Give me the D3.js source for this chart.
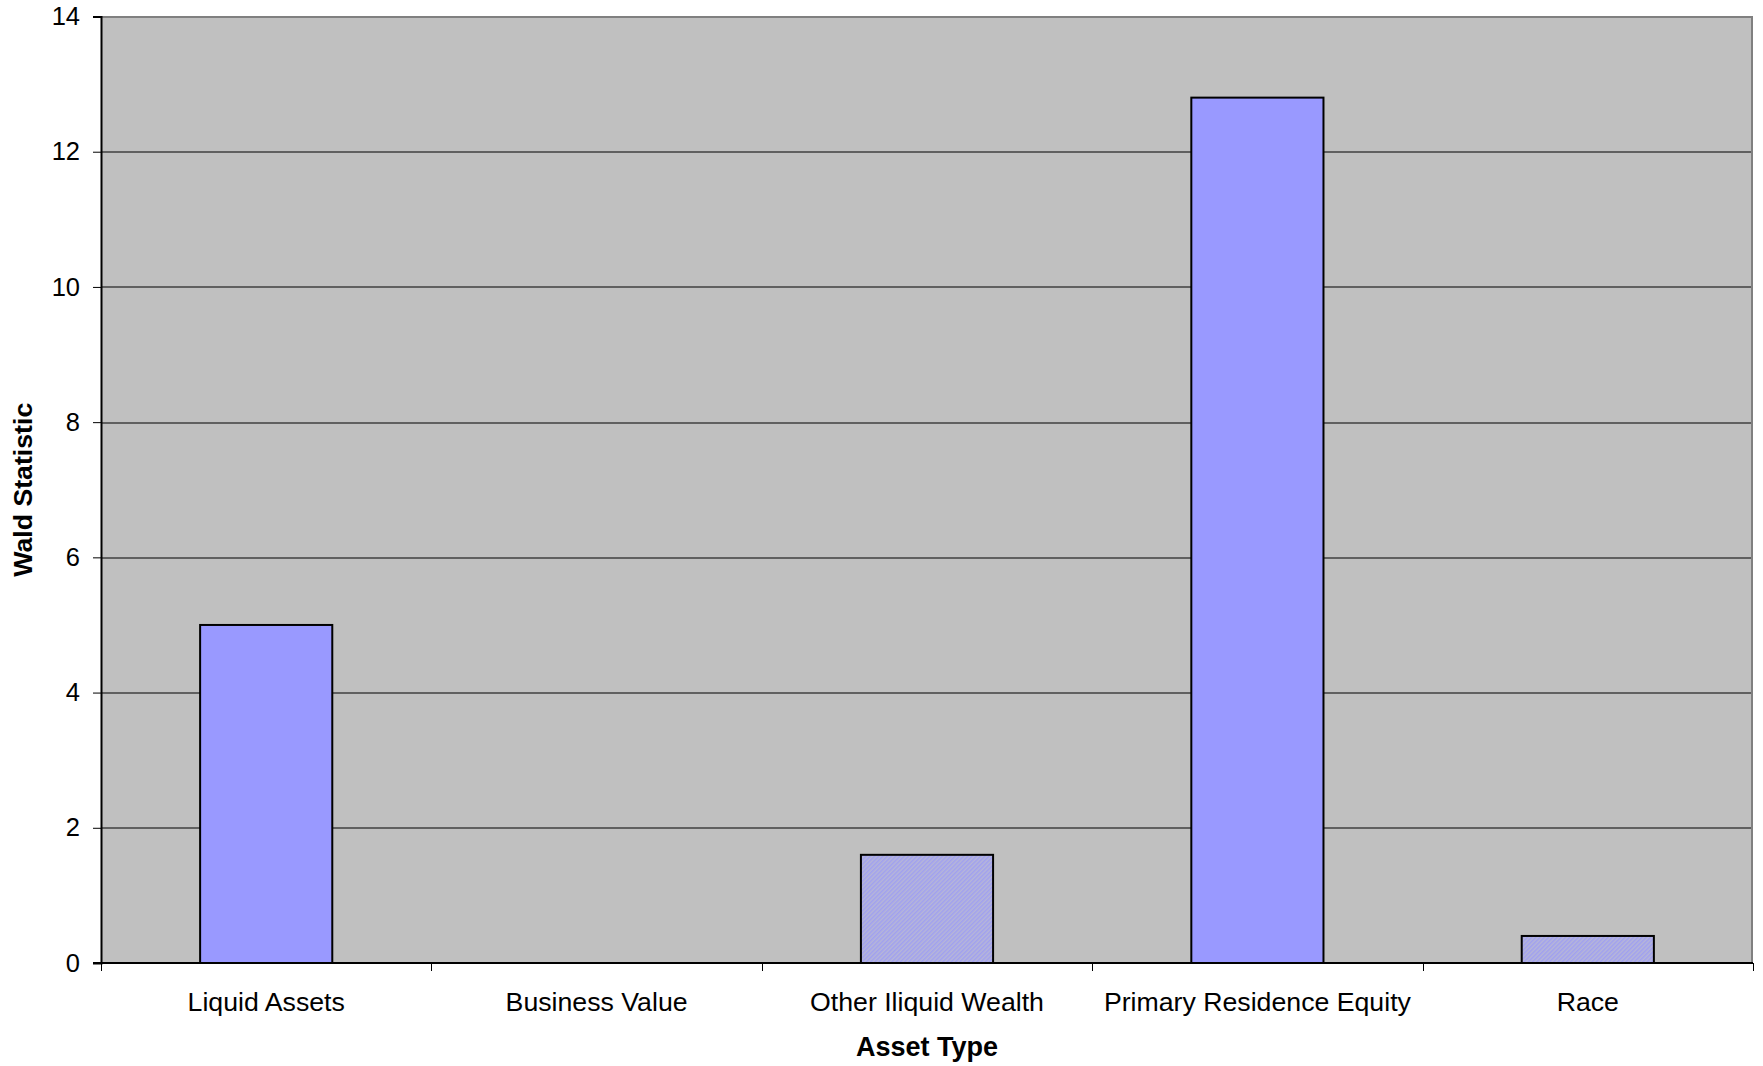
<!DOCTYPE html>
<html>
<head>
<meta charset="utf-8">
<script src="https://cdn.jsdelivr.net/npm/d3@7"></script>
<style>
  html, body { margin: 0; padding: 0; background: #fff; }
  svg { display: block; }
  text { font-family: "Liberation Sans", Arial, sans-serif; fill: #000; }
</style>
</head>
<body>
<svg id="chart" width="1763" height="1066"></svg>
<script>
// Wald statistic per asset type
const categories = ["Liquid Assets", "Business Value", "Other Iliquid Wealth", "Primary Residence Equity", "Race"];
const values = [5.0, 0, 1.6, 12.8, 0.4];
// bars drawn with the hatched (not significant) fill
const hatched = [false, false, true, false, true];
const yTicks = [0, 2, 4, 6, 8, 10, 12, 14];
const xTitle = "Asset Type";
const yTitle = "Wald Statistic";

const W = 1763, H = 1066;
const margin = { top: 16.5, right: 10, bottom: 103, left: 101 };
const iw = W - margin.left - margin.right;
const ih = H - margin.top - margin.bottom;

const svg = d3.select("#chart");

// fine diagonal hatch for the lighter bars
const defs = svg.append("defs");
const pat = defs.append("pattern")
  .attr("id", "hatch")
  .attr("patternUnits", "userSpaceOnUse")
  .attr("width", 3).attr("height", 3)
  .attr("patternTransform", "rotate(45)");
pat.append("rect").attr("width", 3).attr("height", 3).attr("fill", "#b6b6d8");
pat.append("rect").attr("width", 1.5).attr("height", 3).attr("fill", "#a0a0f0");

const g = svg.append("g").attr("transform", `translate(${margin.left},${margin.top})`);

const x = d3.scaleBand().domain(categories).range([0, iw]).paddingInner(0.6).paddingOuter(0.3);
const xb = d3.scaleBand().domain(categories).range([0, iw]);
const y = d3.scaleLinear().domain([0, 14]).range([ih, 0]);

// plot background
g.append("rect").attr("x", 0).attr("y", 0).attr("width", iw).attr("height", ih)
  .attr("fill", "#c0c0c0");

// horizontal gridlines
g.append("g").selectAll("line").data(yTicks.filter(d => d > 0 && d < 14)).join("line")
  .attr("x1", 0).attr("x2", iw)
  .attr("y1", d => Math.round(y(d)) + 0.5).attr("y2", d => Math.round(y(d)) + 0.5)
  .attr("stroke", "#000").attr("stroke-width", 1);

// plot frame (top and right)
g.append("path")
  .attr("d", `M0,0.5H${iw - 1}V${ih}`)
  .attr("fill", "none").attr("stroke", "#808080").attr("stroke-width", 2);

// bars
g.append("g").selectAll("rect").data(categories).join("rect")
  .attr("x", d => x(d))
  .attr("y", (d, i) => y(values[i]))
  .attr("width", x.bandwidth())
  .attr("height", (d, i) => ih - y(values[i]))
  .attr("fill", (d, i) => hatched[i] ? "url(#hatch)" : "#9999ff")
  .attr("stroke", "#000")
  .attr("stroke-width", 2)
  .style("display", (d, i) => values[i] > 0 ? null : "none");

// y axis
const yAxis = g.append("g")
  .call(d3.axisLeft(y).tickValues(yTicks).tickSize(8).tickPadding(13).tickFormat(d3.format("d")));
yAxis.select(".domain").attr("stroke", "#000").attr("stroke-width", 2);
yAxis.selectAll(".tick line").attr("stroke", "#000");
yAxis.selectAll(".tick text").attr("font-size", 25.5).attr("font-family", "Liberation Sans, Arial, sans-serif");

// x axis: ticks at category boundaries
const xAxisG = g.append("g").attr("transform", `translate(0,${ih})`);
xAxisG.append("line").attr("x1", -8).attr("x2", iw).attr("y1", 0).attr("y2", 0)
  .attr("stroke", "#000").attr("stroke-width", 2);
const bounds = categories.map(c => xb(c)).concat([iw]);
xAxisG.selectAll("line.b").data(bounds).join("line").attr("class", "b")
  .attr("x1", d => Math.round(d) + 0.5).attr("x2", d => Math.round(d) + 0.5)
  .attr("y1", 0).attr("y2", 8).attr("stroke", "#000");
xAxisG.selectAll("text").data(categories).join("text")
  .attr("x", d => xb(d) + xb.bandwidth() / 2)
  .attr("y", 48)
  .attr("text-anchor", "middle")
  .attr("font-size", 26.7)
  .text(d => d);

// axis titles
svg.append("text")
  .attr("x", margin.left + iw / 2).attr("y", 1056)
  .attr("text-anchor", "middle").attr("font-size", 27).attr("font-weight", "bold")
  .text(xTitle);
svg.append("text")
  .attr("transform", `translate(32,${margin.top + ih / 2}) rotate(-90)`)
  .attr("text-anchor", "middle").attr("font-size", 26.7).attr("font-weight", "bold")
  .text(yTitle);
</script>
</body>
</html>
